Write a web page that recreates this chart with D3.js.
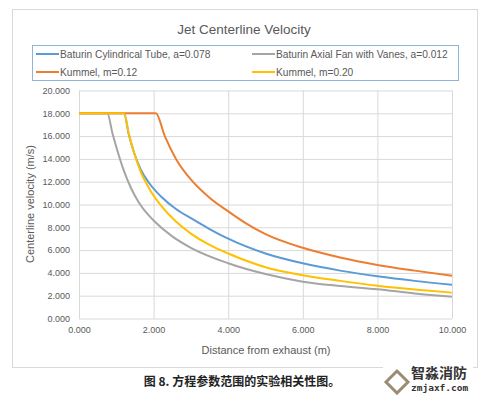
<!DOCTYPE html>
<html>
<head>
<meta charset="utf-8">
<script src="https://cdn.jsdelivr.net/npm/d3@7"></script>
<style>
  body { margin: 0; background: #fff; }
  text { font-family: "Liberation Sans", Arial, sans-serif; }
</style>
</head>
<body>
<div id="chart"></div>
<script>
// series: [distance (m), velocity (m/s)]
const baturinTube = [[0,18],[1.21,18],[1.33,16.2],[1.47,14.6],[1.65,13.1],[1.9,11.8],[2.2,10.7],[2.6,9.6],[3,8.8],[3.5,7.85],[4,7.0],[5,5.7],[6,4.84],[7,4.2],[8,3.7],[9,3.3],[10,2.97]];
const baturinFan = [[0,18],[0.76,18],[0.9,16.2],[1.05,14.5],[1.2,13],[1.4,11.4],[1.6,10.2],[1.8,9.3],[2,8.6],[2.5,7.2],[3,6.2],[4,4.85],[5,3.9],[6,3.23],[7,2.85],[8,2.56],[9,2.2],[10,1.91]];
const kummel012 = [[0,18],[2.06,18],[2.3,16],[2.6,14],[3.05,12],[3.5,10.6],[4,9.4],[4.5,8.3],[5,7.4],[6,6.2],[7,5.35],[8,4.7],[9,4.2],[10,3.75]];
const kummel020 = [[0,18],[1.21,18],[1.33,16.3],[1.47,14.6],[1.65,12.9],[1.9,11.3],[2.2,9.9],[2.6,8.5],[3,7.45],[3.5,6.45],[4,5.7],[5,4.5],[6,3.8],[7,3.3],[8,2.87],[9,2.55],[10,2.27]];

const seriesNames = ["Baturin Cylindrical Tube, a=0.078", "Baturin Axial Fan with Vanes, a=0.012", "Kummel, m=0.12", "Kummel, m=0.20"];
const seriesData = [baturinTube, baturinFan, kummel012, kummel020];
const seriesColors = ["#5B9BD5", "#A5A5A5", "#ED7D31", "#FFC000"];
const xTicks = [0, 2, 4, 6, 8, 10];
const yTicks = [0, 2, 4, 6, 8, 10, 12, 14, 16, 18, 20];

const width = 501, height = 395;
const svg = d3.select("#chart").append("svg")
  .attr("width", width)
  .attr("height", height);

// chart frame
svg.append("rect")
  .attr("x", 12.5).attr("y", 9.5)
  .attr("width", 465).attr("height", 358)
  .attr("fill", "#fff")
  .attr("stroke", "#d9d9d9");

svg.append("text")
  .attr("x", 244).attr("y", 34)
  .attr("text-anchor", "middle")
  .style("font-size", "13.5px")
  .style("fill", "#595959")
  .text("Jet Centerline Velocity");

// legend
const legend = svg.append("g");
legend.append("rect")
  .attr("x", 32.5).attr("y", 45.5)
  .attr("width", 426).attr("height", 35)
  .attr("fill", "none")
  .attr("stroke", "#8fb4d9");

const legendPos = [[36, 54], [252, 54], [36, 72], [252, 72]];
seriesNames.forEach((name, i) => {
  const [lx, ly] = legendPos[i];
  legend.append("line")
    .attr("x1", lx).attr("x2", lx + 23)
    .attr("y1", ly).attr("y2", ly)
    .attr("stroke", seriesColors[i])
    .attr("stroke-width", 2);
  legend.append("text")
    .attr("x", lx + 24).attr("y", ly + 3.5)
    .style("font-size", "10.2px")
    .style("fill", "#595959")
    .text(name);
});

// plot
const x = d3.scaleLinear().domain([0, 10]).range([79, 452]);
const y = d3.scaleLinear().domain([0, 20]).range([318.5, 90.5]);

svg.append("g")
  .attr("transform", `translate(0,${y(0)})`)
  .call(d3.axisBottom(x).tickValues(xTicks).tickSize(-(y(0) - y(20))).tickPadding(8).tickFormat(d3.format(".3f")))
  .call(g => g.select(".domain").remove())
  .call(g => g.selectAll("line").attr("stroke", "#d9d9d9"))
  .call(g => g.selectAll("text").style("font-size", "9px").style("fill", "#595959").style("font-family", "Liberation Sans, Arial, sans-serif"));

svg.append("g")
  .attr("transform", `translate(${x(0)},0)`)
  .call(d3.axisLeft(y).tickValues(yTicks).tickSize(-(x(10) - x(0))).tickPadding(9).tickFormat(d3.format(".3f")))
  .call(g => g.select(".domain").remove())
  .call(g => g.selectAll("line").attr("stroke", "#d9d9d9"))
  .call(g => g.selectAll("text").style("font-size", "9px").style("fill", "#595959").style("font-family", "Liberation Sans, Arial, sans-serif"));

const line = d3.line()
  .x(d => x(d[0]))
  .y(d => y(d[1]))
  .curve(d3.curveMonotoneX);

seriesData.forEach((data, i) => {
  svg.append("path")
    .datum(data)
    .attr("fill", "none")
    .attr("stroke", seriesColors[i])
    .attr("stroke-width", 2)
    .attr("d", line);
});

svg.append("text")
  .attr("x", 266).attr("y", 354)
  .attr("text-anchor", "middle")
  .style("font-size", "11px")
  .style("fill", "#595959")
  .text("Distance from exhaust (m)");

svg.append("text")
  .attr("transform", "translate(34,204) rotate(-90)")
  .attr("text-anchor", "middle")
  .style("font-size", "11px")
  .style("fill", "#595959")
  .text("Centerline velocity (m/s)");

// caption
svg.append("text")
  .attr("x", 242).attr("y", 386)
  .attr("text-anchor", "middle")
  .style("font-family", "'Noto Sans CJK SC', sans-serif")
  .style("font-size", "12px")
  .style("font-weight", "bold")
  .style("fill", "#222")
  .text("图 8. 方程参数范围的实验相关性图。");

// watermark
const wm = svg.append("g");
wm.append("rect").attr("x", 383).attr("y", 363).attr("width", 90).attr("height", 32).attr("fill", "#fff");
wm.append("path")
  .attr("d", "M386,382 L397,371 L408,382 L397,393 Z")
  .attr("fill", "none")
  .attr("stroke", "#9b8b73")
  .attr("stroke-width", 3);
wm.append("text")
  .attr("x", 411).attr("y", 378)
  .style("font-family", "'Noto Sans CJK SC', sans-serif")
  .style("font-size", "14px")
  .style("font-weight", "bold")
  .style("fill", "#333")
  .text("智淼消防");
wm.append("text")
  .attr("x", 411).attr("y", 391)
  .style("font-family", "'DejaVu Sans Mono', monospace")
  .style("font-size", "9.5px")
  .style("font-weight", "bold")
  .style("fill", "#333")
  .text("zmjaxf.com");
</script>
</body>
</html>
